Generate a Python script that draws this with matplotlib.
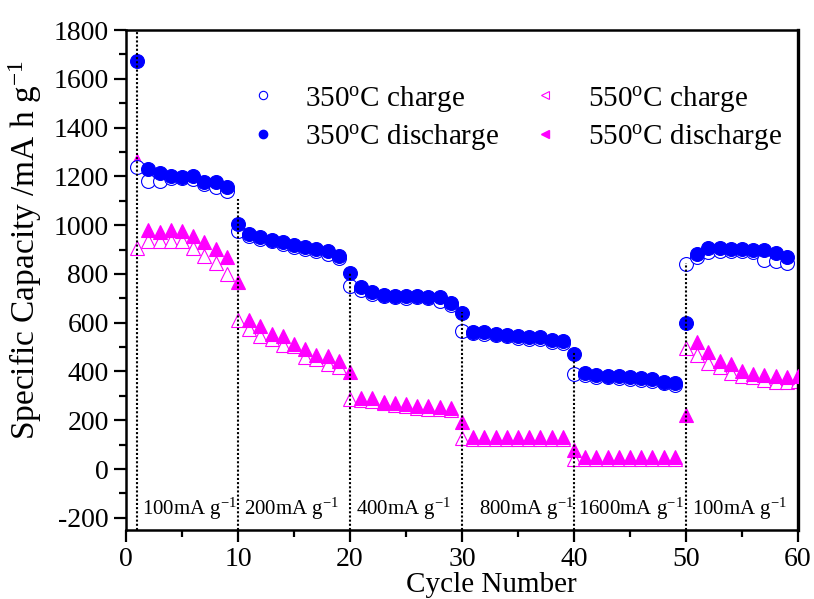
import matplotlib
matplotlib.use("Agg")
import matplotlib.pyplot as plt
import numpy as np
from matplotlib.lines import Line2D
from matplotlib.ticker import MultipleLocator

plt.rcParams['font.family'] = ['Liberation Serif', 'DejaVu Serif']
plt.rcParams['mathtext.fontset'] = 'custom'
plt.rcParams['mathtext.rm'] = 'Liberation Serif'
plt.rcParams['mathtext.it'] = 'Liberation Serif:italic'
plt.rcParams['mathtext.bf'] = 'Liberation Serif:bold'
plt.rcParams['axes.unicode_minus'] = False

# 350 C sample, cycles 1-59
cyc_350 = np.arange(1, 60)
charge_350 = [1237, 1182, 1182, 1195, 1195, 1189, 1168, 1155, 1140,
              977, 955, 945, 933, 922, 912, 902, 893, 882, 866,
              749, 735, 718, 710, 705, 703, 705, 700, 690, 672,
              567, 556, 553, 548, 545, 538, 535, 532, 522, 516,
              390, 386, 378, 376, 372, 368, 365, 360, 352, 345,
              840, 868, 890, 895, 895, 893, 888, 858, 852, 846]
discharge_350 = [1672, 1229, 1214, 1203, 1196, 1203, 1178, 1175, 1155,
                 1004, 963, 950, 940, 929, 918, 909, 902, 892, 872,
                 804, 745, 727, 715, 711, 708, 711, 707, 704, 681,
                 638, 563, 563, 554, 551, 544, 540, 540, 529, 524,
                 471, 394, 385, 383, 380, 376, 373, 369, 358, 353,
                 599, 881, 905, 905, 903, 903, 900, 897, 885, 868]

# 550 C sample, cycles 1-60
cyc_550 = np.arange(1, 61)
charge_550 = [905, 936, 936, 936, 936, 905, 872, 845, 800,
              611, 574, 547, 533, 508, 503, 458, 451, 430, 417,
              287, 282, 278, 270, 263, 258, 252, 248, 245, 240,
              126, 122, 122, 122, 122, 122, 122, 122, 122, 122,
              41, 42, 42, 42, 42, 42, 42, 42, 42, 42,
              495, 467, 435, 417, 394, 383, 376, 366, 358, 355, 362]
discharge_550 = [1264, 981, 973, 981, 977, 954, 932, 902, 868,
                 765, 611, 585, 554, 544, 512, 492, 467, 462, 444,
                 396, 290, 290, 276, 271, 266, 260, 257, 253, 249,
                 194, 130, 130, 130, 130, 130, 130, 130, 130, 130,
                 79, 48, 48, 48, 48, 48, 48, 48, 48, 48,
                 221, 519, 478, 444, 430, 403, 390, 385, 380, 376, 383]

# rate steps
step_cycles = [1, 10, 20, 30, 40, 50]
step_tops = [1800, 1107, 804, 643, 480, 845]
rate_labels = ['100mA g$^{-1}$', '200mA g$^{-1}$', '400mA g$^{-1}$',
               '800mA g$^{-1}$', '1600mA g$^{-1}$', '100mA g$^{-1}$']
rate_label_x = [1.4, 10.5, 20.5, 31.5, 40.4, 50.5]

blue = '#0000FF'
magenta = '#FF00FF'

fig = plt.figure(figsize=(8.14, 5.99), dpi=100)
ax = fig.add_axes([0.1548, 0.1152, 0.8255, 0.8347])

ms = 10
ax.plot(cyc_550, charge_550, ls='none', marker='^', ms=ms, mfc='white',
        mec=magenta, mew=0.8, zorder=2)
ax.plot(cyc_550, discharge_550, ls='none', marker='^', ms=ms, mfc=magenta,
        mec=magenta, mew=0.8, zorder=3)
ax.plot(cyc_350, charge_350, ls='none', marker='o', ms=ms, mfc='white',
        mec=blue, mew=0.8, zorder=4)
ax.plot(cyc_350, discharge_350, ls='none', marker='o', ms=ms, mfc=blue,
        mec=blue, mew=0.8, zorder=5)

ax.set_xlim(0, 60)
ax.set_ylim(-250, 1800)

# dotted separators between rates
for xc, top in zip(step_cycles, step_tops):
    ax.plot([xc, xc], [-250, top], color='black', lw=1.5,
            ls=(0, (1, 1)), zorder=6)

for xl, lab in zip(rate_label_x, rate_labels):
    ax.text(xl, -189, lab, fontsize=15, ha='left', va='baseline', zorder=7)

ax.xaxis.set_major_locator(MultipleLocator(10))
ax.xaxis.set_minor_locator(MultipleLocator(5))
ax.yaxis.set_major_locator(MultipleLocator(200))
ax.yaxis.set_minor_locator(MultipleLocator(100))
ax.tick_params(which='major', direction='out', length=8.5, width=1.6,
               labelsize=20, pad=4, top=False, right=False)
ax.tick_params(which='minor', direction='out', length=5, width=1.6,
               top=False, right=False)
for sp in ax.spines.values():
    sp.set_linewidth(1.8)
ax.spines['right'].set_linewidth(2.4)

ax.set_xlabel('Cycle Number', fontsize=21)
ax.set_ylabel('Specific Capacity /mA h g$^{-1}$', fontsize=24)
ax.xaxis.set_label_coords(0.544, -0.084)
ax.yaxis.set_label_coords(-0.122, 0.56)

handles = [
    Line2D([0], [0], ls='none', marker='o', ms=6, mfc='white', mec=blue, mew=0.8),
    Line2D([0], [0], ls='none', marker='o', ms=6, mfc=blue, mec=blue),
    Line2D([0], [0], ls='none', marker='<', ms=6, mfc='white', mec=magenta, mew=0.8),
    Line2D([0], [0], ls='none', marker='<', ms=6, mfc=magenta, mec=magenta),
]
labels = ['350$^{\\rm o}$C charge', '350$^{\\rm o}$C discharge',
          '550$^{\\rm o}$C charge', '550$^{\\rm o}$C discharge']
ax.legend(handles, labels, ncol=2, frameon=False, fontsize=21,
          loc='upper left', bbox_to_anchor=(0.182, 0.893), borderpad=0,
          borderaxespad=0, handlelength=1.0, handletextpad=0.95,
          columnspacing=1.08, labelspacing=0.3)

fig.savefig('out.png', dpi=100)
